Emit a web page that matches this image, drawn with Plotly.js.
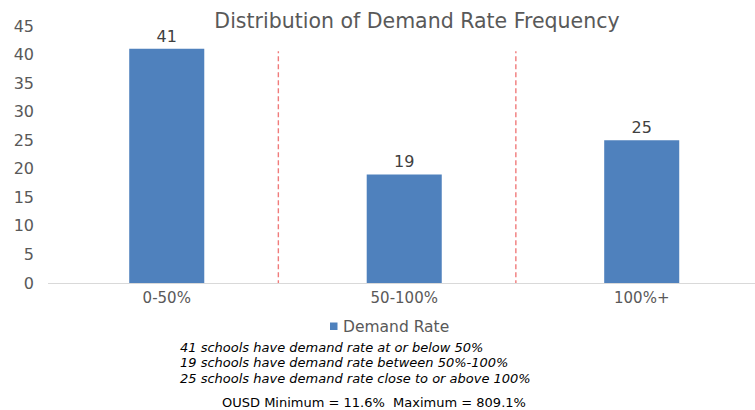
<!DOCTYPE html>
<html>
<head>
<meta charset="utf-8">
<script src="https://cdn.plot.ly/plotly-3.0.1.min.js"></script>
<style>html,body{margin:0;padding:0;background:#fff;}#chart{width:755px;height:410px;}</style>
</head>
<body>
<div id="chart"></div>
<script>
const categories = ["0-50%", "50-100%", "100%+"];
const demandRate = [41, 19, 25];
const seriesName = "Demand Rate";
const separators = [0.47, 1.47];
const yTicks = [0, 5, 10, 15, 20, 25, 30, 35, 40, 45];
const notes = [
  "41 schools have demand rate at or below 50%",
  "19 schools have demand rate between 50%-100%",
  "25 schools have demand rate close to or above 100%"
];
const summary = "OUSD Minimum = 11.6%  Maximum = 809.1%";

const font = "DejaVu Sans, Arial, sans-serif";
const L = 48, PW = 707, TOP = 26, PH = 257;
const px = x => (x - L) / PW;
const py = y => (TOP + PH - y) / PH;

const trace = {
  type: "bar",
  x: [0, 1, 2],
  y: demandRate,
  name: seriesName,
  width: 0.316,
  marker: {color: "#4f81bd"},
  text: demandRate.map(String),
  textposition: "outside",
  textfont: {family: font, size: 16, color: "#404040"},
  cliponaxis: false,
  hoverinfo: "none",
  showlegend: false
};

const shapes = separators.map(s => ({
  type: "line", xref: "x", yref: "y",
  x0: s, x1: s, y0: -1.8, y1: 40.6,
  line: {color: "#f07b7b", width: 1.4, dash: "5px,3px"}
}));
// legend key
shapes.push({
  type: "rect", xref: "paper", yref: "paper",
  x0: px(330), x1: px(337.5), y0: py(330), y1: py(322.5),
  fillcolor: "#4f81bd", line: {width: 0}
});

const annotations = notes.map((t, i) => ({
  text: "<i>" + t + "</i>", xref: "paper", yref: "paper",
  x: px(178), y: py(347.7 + i * 15.2),
  xanchor: "left", yanchor: "middle", showarrow: false,
  font: {family: font, size: 13, color: "#000"}
}));
annotations.push({
  text: summary, xref: "paper", yref: "paper",
  x: px(374), y: py(402),
  xanchor: "center", yanchor: "middle", showarrow: false,
  font: {family: font, size: 13, color: "#000"}
});
annotations.push({
  text: seriesName, xref: "paper", yref: "paper",
  x: px(341), y: py(326.5),
  xanchor: "left", yanchor: "middle", showarrow: false,
  font: {family: font, size: 15.5, color: "#595959"}
});

const layout = {
  width: 755, height: 410,
  margin: {l: L, r: 0, t: TOP, b: 410 - TOP - PH},
  paper_bgcolor: "#fff", plot_bgcolor: "#fff",
  title: {text: "Distribution of Demand Rate Frequency", x: 417 / 755, xanchor: "center", y: 1 - 21 / 410, yanchor: "middle",
          font: {family: font, size: 20.5, color: "#595959"}},
  xaxis: {
    range: [-0.5, 2.477], tickvals: [0, 1, 2], ticktext: categories,
    showgrid: false, zeroline: false, showline: false, ticks: "",
    tickfont: {family: font, size: 15, color: "#595959"},
    ticklabelstandoff: 4
  },
  yaxis: {
    range: [0, 45], tickvals: yTicks, showgrid: false, zeroline: true,
    zerolinecolor: "#d9d9d9", zerolinewidth: 1, showline: false, ticks: "",
    tickfont: {family: font, size: 16, color: "#595959"},
    ticklabelstandoff: 13
  },
  showlegend: false,
  shapes: shapes,
  annotations: annotations
};

Plotly.newPlot("chart", [trace], layout, {displayModeBar: false, staticPlot: true});
</script>
</body>
</html>
